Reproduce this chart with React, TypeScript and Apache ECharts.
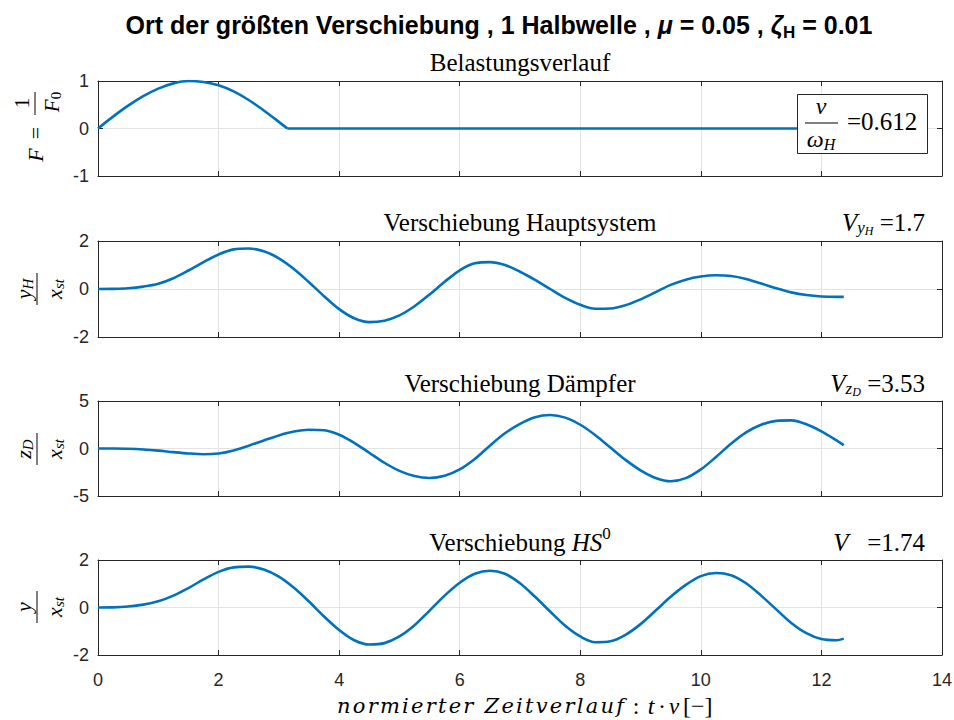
import React, { useEffect, useRef } from "react";
import * as echarts from "echarts";

// ---------- data ----------
const xTicks = [0, 2, 4, 6, 8, 10, 12, 14];

const tLoadSine = [0, 0.25, 0.5, 0.75, 1.0, 1.25, 1.5, 1.75, 2.0, 2.25, 2.5, 2.75, 3.0, 3.14];
const loadSine = [0, 0.25, 0.48, 0.68, 0.84, 0.95, 1.0, 0.98, 0.91, 0.78, 0.6, 0.38, 0.14, 0];
const tLoadFlat = [3.14, 12.37];
const loadFlat = [0, 0];

const tResp = [
  0, 0.25, 0.5, 0.75, 1.0, 1.25, 1.5, 1.75, 2.0, 2.25, 2.5, 2.75, 3.0, 3.25, 3.5, 3.75, 4.0, 4.25, 4.5, 4.75,
  5.0, 5.25, 5.5, 5.75, 6.0, 6.25, 6.5, 6.75, 7.0, 7.25, 7.5, 7.75, 8.0, 8.25, 8.5, 8.75, 9.0, 9.25, 9.5, 9.75,
  10.0, 10.25, 10.5, 10.75, 11.0, 11.25, 11.5, 11.75, 12.0, 12.25, 12.37,
];
const yH = [
  0, 0.005, 0.03, 0.1, 0.22, 0.45, 0.77, 1.12, 1.44, 1.65, 1.69, 1.57, 1.28, 0.83, 0.28, -0.3, -0.84, -1.22, -1.38, -1.32,
  -1.1, -0.72, -0.23, 0.3, 0.78, 1.07, 1.12, 1.0, 0.72, 0.38, 0.0, -0.37, -0.66, -0.825, -0.815, -0.68, -0.43, -0.13, 0.17, 0.39,
  0.52, 0.57, 0.54, 0.42, 0.23, 0.03, -0.14, -0.25, -0.31, -0.33, -0.33,
];
const zD = [
  0, -0.005, -0.03, -0.1, -0.22, -0.38, -0.52, -0.6, -0.52, -0.2, 0.3, 0.85, 1.38, 1.78, 1.98, 1.92, 1.45, 0.6, -0.45, -1.5,
  -2.35, -2.9, -3.1, -2.87, -2.2, -1.1, 0.3, 1.6, 2.6, 3.3, 3.52, 3.25, 2.5, 1.4, 0.1, -1.2, -2.3, -3.1, -3.45, -3.12,
  -2.2, -0.9, 0.5, 1.7, 2.5, 2.91, 2.96, 2.55, 1.8, 0.85, 0.35,
];
const yHS0 = [
  0, 0.005, 0.04, 0.12, 0.26, 0.5, 0.82, 1.18, 1.5, 1.69, 1.72, 1.6, 1.3, 0.83, 0.25, -0.38, -0.95, -1.38, -1.56, -1.5,
  -1.22, -0.75, -0.13, 0.5, 1.04, 1.42, 1.55, 1.42, 1.02, 0.45, -0.17, -0.77, -1.22, -1.465, -1.425, -1.15, -0.7, -0.13, 0.45, 0.95,
  1.32, 1.45, 1.36, 1.02, 0.5, -0.08, -0.65, -1.08, -1.33, -1.38, -1.31,
];

const yRanges = [
  { min: -1, max: 1, interval: 1 },
  { min: -2, max: 2, interval: 2 },
  { min: -5, max: 5, interval: 5 },
  { min: -2, max: 2, interval: 2 },
];

// ---------- layout ----------
const BLUE = "#0072BD";
const AX = "#262626";
const GRIDC = "#e3e3e3";
const SERIF = "Liberation Serif";
const SANS = "Liberation Sans";
const PLOT_LEFT = 98;
const PLOT_W = 844;
const SMOOTH = 0.33;
const gridBoxes = [
  { top: 81, height: 95 },
  { top: 241, height: 96 },
  { top: 401, height: 95 },
  { top: 560, height: 95 },
];

type Seg = { t: string; size: number; it?: boolean; b?: boolean; fam?: string; dy?: number; dx?: number; fill?: string };
let mctx: CanvasRenderingContext2D | null = null;
function fontOf(s: Seg) {
  return `${s.it ? "italic " : ""}${s.b ? "bold " : ""}${s.size}px "${s.fam || SERIF}"`;
}
function mw(s: Seg) {
  if (!mctx) mctx = document.createElement("canvas").getContext("2d");
  mctx!.font = fontOf(s);
  return mctx!.measureText(s.t).width;
}
function textEl(s: Seg, x: number, y: number, z: number) {
  return {
    type: "text",
    x,
    y,
    z,
    silent: true,
    style: {
      text: s.t,
      fontSize: s.size,
      fontFamily: s.fam || SERIF,
      fontStyle: s.it ? "italic" : "normal",
      fontWeight: s.b ? "bold" : "normal",
      fill: s.fill || "#000",
      textAlign: "left",
      textVerticalAlign: "middle",
      align: "left",
      verticalAlign: "middle",
    },
  };
}
function row(segs: Seg[], x: number, y: number, align: "left" | "center" | "right", z = 50): any[] {
  const widths = segs.map((s) => mw(s) + (s.dx || 0));
  const total = widths.reduce((a, b) => a + b, 0);
  let cx = align === "left" ? x : align === "center" ? x - total / 2 : x - total;
  return segs.map((s, i) => {
    const el = textEl(s, cx + (s.dx || 0), y + (s.dy || 0), z);
    cx += widths[i];
    return el;
  });
}
// place characters of a string so that they span exactly [x1, x2]
function fitRow(base: Seg, x1: number, x2: number, y: number, z = 50): any[] {
  const chars = Array.from(base.t);
  const ws = chars.map((c) => mw({ ...base, t: c }));
  const natural = ws.reduce((a, b) => a + b, 0);
  const ls = chars.length > 1 ? (x2 - x1 - natural) / (chars.length - 1) : 0;
  let cx = x1;
  const out: any[] = [];
  chars.forEach((c, i) => {
    if (c !== " ") out.push(textEl({ ...base, t: c }, cx, y, z));
    cx += ws[i] + ls;
  });
  return out;
}
function hline(x1: number, x2: number, y: number, z = 50) {
  return { type: "line", z, silent: true, shape: { x1, y1: y, x2, y2: y }, style: { stroke: "#000", lineWidth: 1 } };
}
function fracLabel(cx: number, cy: number, num: Seg[], den: Seg[]) {
  return {
    type: "group",
    x: cx,
    y: cy,
    rotation: Math.PI / 2,
    children: [...row(num, 0, -14, "center"), hline(-16, 16, 0), ...row(den, 0, 17, "center")],
  };
}

function buildOption() {
  const grid: any[] = [];
  const xAxis: any[] = [];
  const yAxis: any[] = [];
  gridBoxes.forEach((g, i) => {
    grid.push({ left: PLOT_LEFT, width: PLOT_W, top: g.top, height: g.height, outerBoundsMode: "none", containLabel: false });
    const common = {
      type: "value",
      gridIndex: i,
      min: xTicks[0],
      max: xTicks[xTicks.length - 1],
      interval: xTicks[1] - xTicks[0],
      axisLine: { show: true, onZero: false, lineStyle: { color: AX, width: 1 } },
      axisTick: { show: true, inside: true, length: 5, lineStyle: { color: AX } },
    };
    xAxis.push({
      ...common,
      position: "bottom",
      axisLabel: { show: i === 3, fontFamily: SANS, fontSize: 18, color: AX, margin: 16 },
      splitLine: { show: true, lineStyle: { color: GRIDC, width: 1 } },
    });
    xAxis.push({ ...common, position: "top", axisLabel: { show: false }, splitLine: { show: false } });
    const yr = yRanges[i];
    const ycommon = {
      type: "value",
      gridIndex: i,
      min: yr.min,
      max: yr.max,
      interval: yr.interval,
      axisLine: { show: true, onZero: false, lineStyle: { color: AX, width: 1 } },
      axisTick: { show: true, inside: true, length: 5, lineStyle: { color: AX } },
    };
    yAxis.push({
      ...ycommon,
      position: "left",
      axisLabel: { show: true, fontFamily: SANS, fontSize: 18, color: AX, margin: 9 },
      splitLine: { show: true, lineStyle: { color: GRIDC, width: 1 } },
    });
    yAxis.push({ ...ycommon, position: "right", axisLabel: { show: false }, splitLine: { show: false } });
  });

  const zip = (t: number[], v: number[]) => t.map((x, i) => [x, v[i]]);
  const lineSeries = (gi: number, data: number[][], smooth: any) => ({
    type: "line",
    xAxisIndex: gi * 2,
    yAxisIndex: gi * 2,
    data,
    smooth,
    showSymbol: false,
    symbol: "none",
    lineStyle: { color: BLUE, width: 2.6 },
    z: 5,
  });
  const series = [
    lineSeries(0, zip(tLoadSine, loadSine), SMOOTH),
    lineSeries(0, zip(tLoadFlat, loadFlat), false),
    lineSeries(1, zip(tResp, yH), SMOOTH),
    lineSeries(2, zip(tResp, zD), SMOOTH),
    lineSeries(3, zip(tResp, yHS0), SMOOTH),
  ];

  const cX = PLOT_LEFT + PLOT_W / 2;
  const TS = 25; // serif title size
  const graphic: any[] = [
    // main title
    ...row(
      [
        { t: "Ort der größten Verschiebung , 1 Halbwelle , ", size: 25, b: true, fam: SANS },
        { t: "μ", size: 25, b: true, it: true, fam: SANS },
        { t: " = 0.05 , ", size: 25, b: true, fam: SANS },
        { t: "ζ", size: 25, b: true, it: true, fam: SANS },
        { t: "H", size: 17, b: true, fam: SANS, dy: 7 },
        { t: " = 0.01", size: 25, b: true, fam: SANS },
      ],
      499,
      25,
      "center"
    ),
    // subplot titles
    ...row([{ t: "Belastungsverlauf", size: TS }], cX, 62, "center"),
    ...row([{ t: "Verschiebung Hauptsystem", size: TS }], cX, 222, "center"),
    ...row([{ t: "Verschiebung Dämpfer", size: TS }], cX, 383, "center"),
    ...row(
      [
        { t: "Verschiebung ", size: TS },
        { t: "HS", size: TS, it: true },
        { t: "0", size: 17, dy: -9 },
      ],
      cX,
      542,
      "center"
    ),
    // right annotations
    ...row(
      [
        { t: "V", size: TS, it: true },
        { t: "y", size: 17, it: true, dy: 5 },
        { t: "H", size: 12, it: true, dy: 9 },
        { t: " =1.7", size: TS },
      ],
      925,
      222,
      "right"
    ),
    ...row(
      [
        { t: "V", size: TS, it: true },
        { t: "z", size: 17, it: true, dy: 5 },
        { t: "D", size: 12, it: true, dy: 9 },
        { t: " =3.53", size: TS },
      ],
      925,
      383,
      "right"
    ),
    ...row(
      [
        { t: "V", size: TS, it: true },
        { t: "   =1.74", size: TS },
      ],
      925,
      542,
      "right"
    ),
    // box with nu / omega_H
    {
      type: "rect",
      z: 40,
      silent: true,
      shape: { x: 797.5, y: 94.5, width: 130, height: 59 },
      style: { fill: "#fff", stroke: AX, lineWidth: 1 },
    },
    ...row([{ t: "ν", size: 24, it: true }], 821, 106, "center", 50),
    hline(805, 838, 123),
    ...row(
      [
        { t: "ω", size: 24, it: true },
        { t: "H", size: 16, it: true, dy: 5 },
      ],
      821,
      139,
      "center",
      50
    ),
    ...row([{ t: "=0.612", size: TS }], 847, 121, "left", 50),
    // y labels
    {
      type: "group",
      x: 35,
      y: 133,
      rotation: Math.PI / 2,
      children: [
        ...row([{ t: "F", size: 22, it: true }], -22, 0, "center"),
        ...row([{ t: "=", size: 22 }], 0, 0, "center"),
        hline(18, 41, 0),
        ...row([{ t: "1", size: 21 }], 30, -13, "center"),
        ...row(
          [
            { t: "F", size: 21, it: true },
            { t: "0", size: 15, dy: 4 },
          ],
          31,
          17,
          "center"
        ),
      ],
    },
    fracLabel(
      37,
      289,
      [
        { t: "y", size: 22, it: true },
        { t: "H", size: 15, it: true, dy: 5 },
      ],
      [
        { t: "x", size: 22, it: true },
        { t: "st", size: 15, it: true, dy: 5 },
      ]
    ),
    fracLabel(
      37,
      449,
      [
        { t: "z", size: 22, it: true },
        { t: "D", size: 15, it: true, dy: 5 },
      ],
      [
        { t: "x", size: 22, it: true },
        { t: "st", size: 15, it: true, dy: 5 },
      ]
    ),
    fracLabel(
      37,
      607,
      [{ t: "y", size: 22, it: true }],
      [
        { t: "x", size: 22, it: true },
        { t: "st", size: 15, it: true, dy: 5 },
      ]
    ),
    // x axis label
    ...fitRow({ t: "normierter Zeitverlauf", size: 21, it: true, fam: "DejaVu Serif" }, 337, 624, 706),
    ...row([{ t: ":", size: 24 }], 636, 706, "center"),
    ...row([{ t: "t", size: 24, it: true }], 651, 706, "center"),
    ...row([{ t: "·", size: 24 }], 662, 706, "center"),
    ...row([{ t: "ν", size: 23, it: true }], 674, 706, "center"),
    ...row([{ t: "[−]", size: 24 }], 683, 706, "left"),
  ];

  return {
    animation: false,
    backgroundColor: "#fff",
    grid,
    xAxis,
    yAxis,
    series,
    graphic: { elements: graphic },
  };
}

export default function App() {
  const ref = useRef<HTMLDivElement>(null);
  useEffect(() => {
    const chart = echarts.init(ref.current!, null, { renderer: "svg", width: 954, height: 720 });
    chart.setOption(buildOption() as any);
    return () => chart.dispose();
  }, []);
  return (
    <div
      ref={ref}
      style={{ position: "fixed", left: 0, top: 0, width: 954, height: 720, background: "#fff" }}
    />
  );
}
